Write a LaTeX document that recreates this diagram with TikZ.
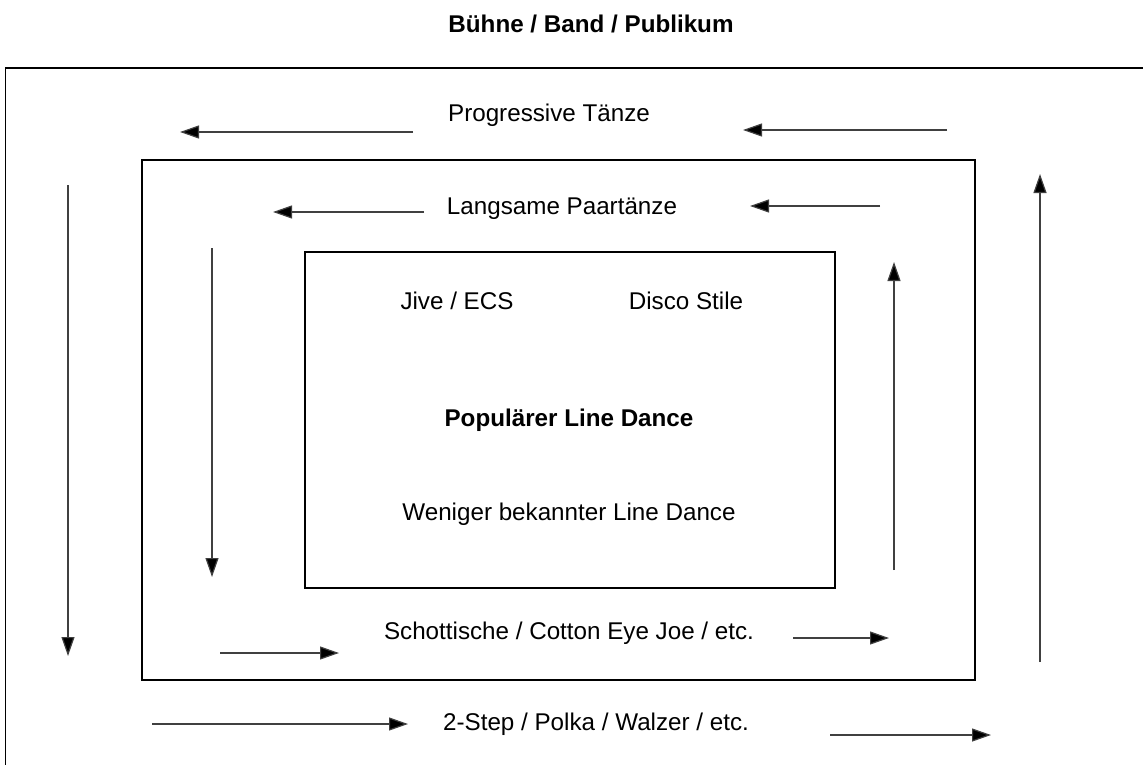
\documentclass[tikz,border=0pt]{standalone}
\usepackage{fontspec}
\setmainfont{Liberation Sans}
\usetikzlibrary{arrows.meta}
\tikzset{
  frame/.style={line width=1.6pt, black},
  arr/.style={line width=1.2pt, draw=black!75, -{Triangle[length=19pt,width=13pt,fill=black]}},
  lbl/.style={inner sep=0pt, font=\fontsize{24.2}{28}\selectfont},
  blbl/.style={inner sep=0pt, font=\fontsize{24.2}{28}\selectfont\bfseries}
}
\begin{document}
\begin{tikzpicture}[x=1pt,y=-1pt]
\useasboundingbox[fill=white] (0,0) rectangle (1143,765);
% outer frame (only left and top visible)
\draw[frame] (5.5,770) -- (5.5,68) -- (1150,68);
% middle frame
\draw[frame] (142,160) rectangle (975,680);
% inner frame
\draw[frame] (305,252) rectangle (835,588);
% texts
\node[blbl] (title) at (591,24) {Bühne / Band / Publikum};
\node[lbl] (prog) at (549,115) {Progressive Tänze};
\node[lbl] (lang) at (562,209) {Langsame Paartänze};
\node[lbl] (jive) at (457,301) {Jive / ECS};
\node[lbl] (disco) at (686,301) {Disco Stile};
\node[blbl] (pop) at (569,420) {Populärer Line Dance};
\node[lbl] (wen) at (569,514) {Weniger bekannter Line Dance};
\node[lbl] (scho) at (569,633) {Schottische / Cotton Eye Joe / etc.};
\node[lbl] (stp) at (596,724) {2-Step / Polka / Walzer / etc.};
% arrows outer ring
\draw[arr] (413,132) -- (180,132);
\draw[arr] (947,130) -- (743,130);
\draw[arr] (68,185) -- (68,656);
\draw[arr] (152,724) -- (408,724);
\draw[arr] (830,735) -- (991,735);
\draw[arr] (1040,662) -- (1040,174);
% arrows middle ring
\draw[arr] (424,212) -- (273,212);
\draw[arr] (880,206) -- (750,206);
\draw[arr] (212,248) -- (212,577);
\draw[arr] (220,653) -- (339,653);
\draw[arr] (793,638) -- (889,638);
\draw[arr] (894,570) -- (894,262);
\end{tikzpicture}
\end{document}
